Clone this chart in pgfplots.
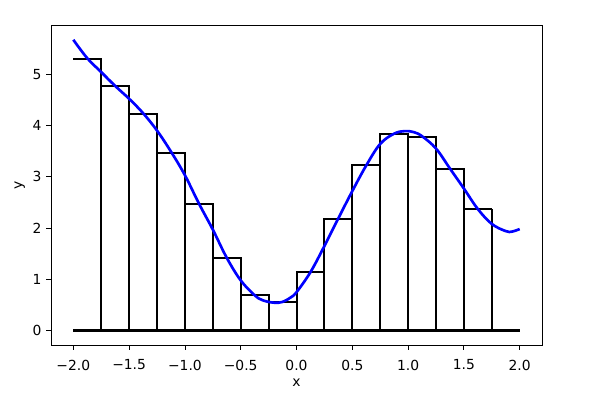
\documentclass[border=0pt]{standalone}
\usepackage{fontspec}
\setmainfont{DejaVu Sans}
\usepackage{pgfplots}
\usepackage{pgfplotstable}
\pgfplotsset{compat=1.18}
\pgfplotstableread{
xl xr h
-2.00 -1.75 5.29
-1.75 -1.50 4.76
-1.50 -1.25 4.22
-1.25 -1.00 3.47
-1.00 -0.75 2.47
-0.75 -0.50 1.42
-0.50 -0.25 0.69
-0.25 0.00 0.565
0.00 0.25 1.15
0.25 0.50 2.18
0.50 0.75 3.22
0.75 1.00 3.83
1.00 1.25 3.78
1.25 1.50 3.15
1.50 1.75 2.37
}\bars
\pgfplotstableread{
x y
-2.000 5.67
-1.875 5.31
-1.750 5.04
-1.625 4.77
-1.500 4.52
-1.375 4.24
-1.250 3.90
-1.125 3.49
-1.000 3.03
-0.875 2.48
-0.750 1.97
-0.625 1.42
-0.500 0.98
-0.375 0.69
-0.300 0.59
-0.200 0.545
-0.125 0.56
-0.050 0.65
0.000 0.75
0.125 1.14
0.250 1.65
0.375 2.19
0.500 2.72
0.625 3.22
0.750 3.64
0.875 3.84
0.970 3.89
1.050 3.87
1.125 3.79
1.250 3.55
1.375 3.16
1.500 2.77
1.625 2.37
1.750 2.08
1.875 1.94
1.930 1.93
2.000 1.98
}\curve
\begin{document}
\begin{tikzpicture}
\path[use as bounding box] (-38.25pt,-51.75pt) rectangle (410.25pt,258.75pt);
\begin{axis}[
  at={(0,0)}, anchor=south west,
  scale only axis, width=368.25pt, height=239.5pt,
  xmin=-2.2, xmax=2.2, ymin=-0.28, ymax=5.945,
  axis line style={line width=0.6pt},
  tick align=outside, major tick length=3.6pt,
  tick style={line width=0.6pt, black},
  xtick pos=bottom, ytick pos=left,
  xtick={-2,-1.5,-1,-0.5,0,0.5,1,1.5,2},
  xticklabels={−2.0,−1.5,−1.0,−0.5,0.0,0.5,1.0,1.5,2.0},
  ytick={0,1,2,3,4,5},
  yticklabels={0,1,2,3,4,5},
  every tick label/.append style={font=\fontsize{10.4pt}{12pt}\selectfont},
  xticklabel style={yshift=-4pt},
  xlabel={x}, ylabel={y},
  label style={font=\fontsize{10.4pt}{12pt}\selectfont},
  xlabel style={at={(axis description cs:0.5,0)}, anchor=center, yshift=-28.5pt},
  ylabel style={at={(axis description cs:0,0.5)}, anchor=center, yshift=23.5pt},
  clip=false,
]
\addplot[const plot, black, line width=1.5pt] coordinates {
(-2,5.29) (-1.75,4.76) (-1.5,4.22) (-1.25,3.47) (-1,2.47) (-0.75,1.42) (-0.5,0.69) (-0.25,0.565) (0,1.15) (0.25,2.18) (0.5,3.22) (0.75,3.83) (1.0,3.78) (1.25,3.15) (1.5,2.37) (1.75,2.37)};
\addplot[ycomb, black, line width=1.5pt, skip coords between index={0}{1}] table[x=xl, y=h] {\bars};
\addplot[ycomb, black, line width=1.5pt] table[x=xr, y=h] {\bars};
\addplot[black, line width=2.6pt] coordinates {(-2,0) (2,0)};
\addplot[blue, line width=2pt, smooth, tension=0.6] table[x=x, y=y] {\curve};
\end{axis}
\end{tikzpicture}
\end{document}
